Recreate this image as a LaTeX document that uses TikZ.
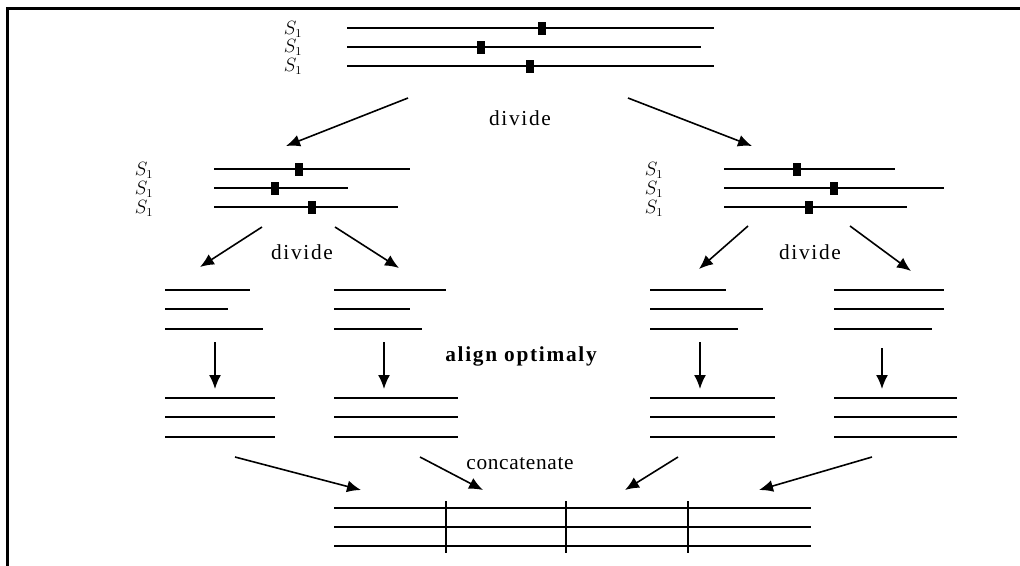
\documentclass[tikz,border=0pt]{standalone}
\usepackage{fontspec}
\setmainfont{Liberation Serif}
\usetikzlibrary{arrows.meta}
\newcommand\seqline[3]{\draw[seq] (#1,#2) -- (#3,#2);}
\newcommand\seqmark[4]{\draw[seq] (#1,#2) -- (#3,#2); \fill ({#4-4},{#2-6.5}) rectangle ({#4+4},{#2+6.5});}
\tikzset{
  seq/.style={line width=1.05pt},
  arr/.style={-{Latex[length=10.5pt,width=9pt]}, line width=1.2pt},
  lbl/.style={font=\fontsize{16}{19}\selectfont\addfontfeature{LetterSpace=8}, inner sep=0pt},
  slbl/.style={font=\fontsize{13.5}{15}\selectfont, inner sep=0pt},
  frame/.style={line width=2.3pt}
}
\begin{document}
\begin{tikzpicture}[x=0.75pt,y=-0.75pt]
\useasboundingbox (0,0) rectangle (1020,565);
% frame
\draw[frame] (7.2,566) -- (7.2,8.7) -- (1021,8.7);
% top group
\node[slbl] (t1) at (293,29) {$S_1$};
\node[slbl] (t2) at (293,47) {$S_1$};
\node[slbl] (t3) at (293,66) {$S_1$};
\seqmark{347}{28}{714}{542}
\seqmark{347}{47}{701}{481}
\seqmark{347}{66}{714}{530}
% top divide
\coordinate (ta) at (408,98);
\coordinate (tb) at (286,146);
\coordinate (tc) at (628,98);
\coordinate (td) at (752,146);
\draw[arr] (ta) -- (tb);
\draw[arr] (tc) -- (td);
\node[lbl] (dv0) at (520,118) {divide};
% mid left group
\node[slbl] (l1) at (144,170) {$S_1$};
\node[slbl] (l2) at (144,189) {$S_1$};
\node[slbl] (l3) at (144,208) {$S_1$};
\seqmark{214}{169}{410}{299}
\seqmark{214}{188}{348}{275}
\seqmark{214}{207}{398}{312}
% mid right group
\node[slbl] (r1) at (654,170) {$S_1$};
\node[slbl] (r2) at (654,189) {$S_1$};
\node[slbl] (r3) at (654,208) {$S_1$};
\seqmark{724}{169}{895}{797}
\seqmark{724}{188}{944}{834}
\seqmark{724}{207}{907}{809}
% second divide
\coordinate (la) at (262,227);
\coordinate (lb) at (200,267);
\coordinate (lc) at (335,227);
\coordinate (ld) at (399,268);
\draw[arr] (la) -- (lb);
\draw[arr] (lc) -- (ld);
\node[lbl] (dv1) at (302,252) {divide};
\coordinate (ra) at (748,226);
\coordinate (rb) at (699,269);
\coordinate (rc) at (850,226);
\coordinate (rd) at (911,271);
\draw[arr] (ra) -- (rb);
\draw[arr] (rc) -- (rd);
\node[lbl] (dv2) at (810,252) {divide};
% unaligned groups
\seqline{165}{290}{250}
\seqline{165}{309}{228}
\seqline{165}{329}{263}
\seqline{334}{290}{446}
\seqline{334}{309}{410}
\seqline{334}{329}{422}
\seqline{650}{290}{726}
\seqline{650}{309}{763}
\seqline{650}{329}{738}
\seqline{834}{290}{944}
\seqline{834}{309}{944}
\seqline{834}{329}{932}
% align arrows
\coordinate (aa1) at (215,342); \coordinate (aa2) at (215,389);
\coordinate (ab1) at (384,342); \coordinate (ab2) at (384,389);
\coordinate (ac1) at (700,342); \coordinate (ac2) at (700,389);
\coordinate (ad1) at (882,348); \coordinate (ad2) at (882,389);
\draw[arr] (aa1) -- (aa2);
\draw[arr] (ab1) -- (ab2);
\draw[arr] (ac1) -- (ac2);
\draw[arr] (ad1) -- (ad2);
\node[lbl, font=\fontsize{16}{19}\selectfont\bfseries\addfontfeature{LetterSpace=8}] (al) at (521,356) {align optimaly};
% aligned groups
\foreach \yy in {398,417,437} {
  \seqline{165}{\yy}{275}
  \seqline{334}{\yy}{458}
  \seqline{650}{\yy}{775}
  \seqline{834}{\yy}{957}
}
% concatenate
\node[lbl, font=\fontsize{16}{19}\selectfont\addfontfeature{LetterSpace=3}] (cc) at (520,464) {concatenate};
\coordinate (c1a) at (235,457); \coordinate (c1b) at (361,490);
\coordinate (c2a) at (420,457); \coordinate (c2b) at (483,490);
\coordinate (c3a) at (678,457); \coordinate (c3b) at (625,490);
\coordinate (c4a) at (872,457); \coordinate (c4b) at (759,490);
\draw[arr] (c1a) -- (c1b);
\draw[arr] (c2a) -- (c2b);
\draw[arr] (c3a) -- (c3b);
\draw[arr] (c4a) -- (c4b);
% final alignment
\foreach \yy in {508,527,546} { \seqline{334}{\yy}{811} }
\draw[seq] (446,501) -- (446,553);
\draw[seq] (566,501) -- (566,553);
\draw[seq] (688,501) -- (688,553);
\end{tikzpicture}
\end{document}
